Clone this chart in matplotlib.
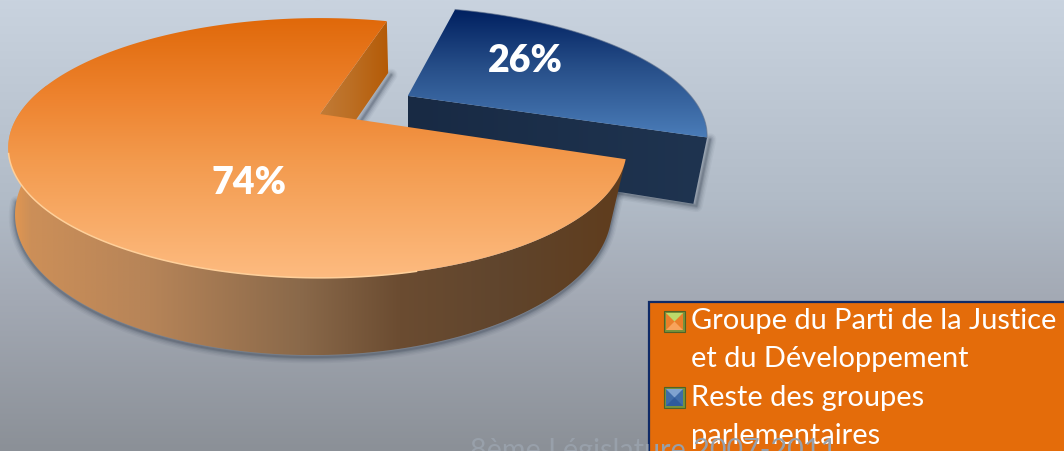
import numpy as np
from matplotlib import pyplot as plt
from matplotlib.colors import LinearSegmentedColormap
from matplotlib.patches import Polygon, Rectangle

plt.rcParams['font.family'] = ['Lato', 'DejaVu Sans']

# data
values = [74, 26]
pct_labels = ['74%', '26%']
legend_labels = ['Groupe du Parti de la Justice\net du Développement',
                 'Reste des groupes\nparlementaires']
footer = '8ème Législature 2007-2011'

start_angle = 73.7
explode_blue = 0.344
k = 0.2615


def top_plane(x, y):
    w = 1 + k * y
    return np.column_stack([320 + (298.5 * x - 2.5 * x * x) / w, 114 - 121 * y / w])


def low_plane(x, y):
    w = 1 + k * y
    return np.column_stack([318 + 6 * y + (288 * x - 3 * x * x) / w, 175 - 133 * y / w])


def gradient(ax, verts, stops, vertical=True, zorder=2):
    xmin, ymin = verts.min(axis=0)
    xmax, ymax = verts.max(axis=0)
    lo, hi = (ymin, ymax) if vertical else (xmin, xmax)
    pos = [(min(max(p, lo), hi) - lo) / (hi - lo) for p, c in stops]
    pos[0] = 0
    pos[-1] = 1
    cmap = LinearSegmentedColormap.from_list('g', list(zip(pos, [c for p, c in stops])))
    ramp = np.linspace(0, 1, 256)
    img = ramp.reshape(-1, 1) if vertical else ramp.reshape(1, -1)
    im = ax.imshow(img, cmap=cmap, extent=(xmin, xmax, ymax, ymin), origin='upper',
                   aspect='auto', zorder=zorder, interpolation='bilinear')
    im.set_clip_path(Polygon(verts, closed=True, transform=ax.transData))


def shadow(ax, verts, dx=0, dy=2, zorder=1):
    for lw, a in [(9, 0.05), (7, 0.07), (5, 0.10), (3, 0.14), (1.5, 0.2)]:
        ax.plot(verts[:, 0] + dx, verts[:, 1] + dy, color='#2f3b4c', lw=lw, alpha=a,
                zorder=zorder, solid_capstyle='round', solid_joinstyle='round')


fig = plt.figure(figsize=(10.64, 4.51), dpi=100)
ax = fig.add_axes([0, 0, 1, 1])

# background
bg = np.array([[0, 0], [1064, 0], [1064, 451], [0, 451]], dtype=float)
gradient(ax, bg, [(0, '#c9d3df'), (200, '#b1bbc7'), (300, '#a3a9b4'), (451, '#8b9097')], zorder=0)

# slice angles come from the values
sweeps = [v / sum(values) * 360 for v in values]
orange_t = np.radians(np.linspace(start_angle, start_angle + sweeps[0], 300))
blue_t = np.radians(np.linspace(start_angle + sweeps[0], start_angle + sum(sweeps), 120))
mid = np.radians(start_angle + sweeps[0] + sweeps[1] / 2)
bx, by = explode_blue * np.cos(mid), explode_blue * np.sin(mid)

# blue slice
b_top = top_plane(bx + np.cos(blue_t), by + np.sin(blue_t))
b_low = low_plane(bx + np.cos(blue_t), by + np.sin(blue_t)) + [4, 3]
b_apex = top_plane(np.array([bx]), np.array([by]))
b_apex_low = low_plane(np.array([bx]), np.array([by])) + [4, 3]
b_face = np.vstack([b_apex, b_top])
b_wall = np.vstack([b_apex, b_top[:1], b_low[:1], b_apex_low])
shadow(ax, np.vstack([b_apex_low, b_low[:1], b_top[:1]]), dx=3, dy=2)
gradient(ax, b_wall, [(405, '#182a44'), (709, '#1f3450')], vertical=False, zorder=3)
gradient(ax, b_face, [(10, '#002060'), (70, '#28508a'), (137, '#4a7cb8')], zorder=4)
ax.plot(b_top[:, 0], b_top[:, 1], color='#5d6f8c', lw=0.8, alpha=0.6, zorder=5)

# orange slice
o_top = top_plane(np.cos(orange_t), np.sin(orange_t))
o_low = low_plane(np.cos(orange_t), np.sin(orange_t))
apex = top_plane(np.array([0.0]), np.array([0.0]))
apex_low = low_plane(np.array([0.0]), np.array([0.0]))
o_face = np.vstack([apex, o_top])
outer = np.degrees(orange_t) > 165
o_wall = np.vstack([o_top[outer], o_low[outer][::-1]])
o_notch = np.vstack([apex, o_top[:1], o_low[:1], apex_low])
shadow_part = np.degrees(orange_t) > 190
shadow(ax, np.vstack([o_low[shadow_part], o_top[-1:]]), dx=0, dy=2)
shadow(ax, np.vstack([o_low[:1], [358, 119]]), dx=3, dy=2)
gradient(ax, o_notch, [(320, '#c27c38'), (350, '#bc6f24'), (387, '#b45a06')], vertical=False, zorder=6)
gradient(ax, o_wall, [(8, '#e8994f'), (30, '#cc8f58'), (150, '#b68458'), (300, '#8a694a'),
                      (400, '#6b4c31'), (500, '#60452d'), (622, '#5f3c1c')],
         vertical=False, zorder=6)
gradient(ax, o_face, [(18, '#e0690a'), (100, '#ee8430'), (160, '#f39a4d'), (278, '#fdbb80')], zorder=7)
front = (o_top[:, 1] > 152) & (o_top[:, 0] < 420)
ax.plot(o_top[front, 0], o_top[front, 1], color='#ffd09a', lw=1.1, zorder=8)

ax.text(249, 183, pct_labels[0], color='white', fontsize=27, fontweight='heavy',
        ha='center', va='center', zorder=9)
ax.text(525, 61, pct_labels[1], color='white', fontsize=27, fontweight='heavy',
        ha='center', va='center', zorder=9)

# legend
ax.add_patch(Rectangle((649, 302), 430, 160, fc='#e46c0a', ec='#0f2a66', lw=1.6, zorder=10))
swatches = [('#f8a35c', '#e97f2a', 311), ('#2f5b9c', '#3f6ca8', 387)]
for (fill1, fill2, sy), lab, ty in zip(swatches, legend_labels, [340, 417]):
    ax.add_patch(Rectangle((664, sy), 21, 21, fc='#76923c', ec='#4f6228', lw=0.8, zorder=11))
    ax.add_patch(Rectangle((666, sy + 2), 17, 17, fc=fill2, ec='none', zorder=12))
    ax.add_patch(Polygon([[666, sy + 2], [683, sy + 2], [674.5, sy + 10.5]],
                         fc='#bcd96a' if sy < 350 else '#7fa3d0', ec='none', zorder=13))
    ax.add_patch(Polygon([[666, sy + 19], [683, sy + 19], [674.5, sy + 10.5]],
                         fc=fill1, ec='none', zorder=13))
    ax.text(691, ty, lab, color='white', fontsize=20.9, ha='left', va='center',
            linespacing=1.6, zorder=14)

ax.text(653, 459, footer, color='#98a0aa', fontsize=20.7, ha='center', va='baseline', zorder=15)

ax.set_xlim(0, 1064)
ax.set_ylim(451, 0)
ax.axis('off')
plt.savefig('out.png', dpi=100)
